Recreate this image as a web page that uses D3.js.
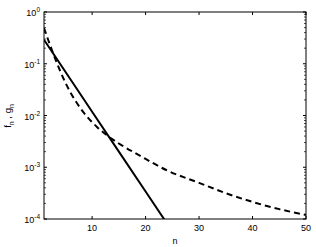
<!DOCTYPE html>
<html>
<head>
<meta charset="utf-8">
<script src="https://cdn.jsdelivr.net/npm/d3@7"></script>
<style>
  body { margin: 0; background: #fff; }
  svg { display: block; font-family: "Liberation Sans", Arial, sans-serif; }
</style>
</head>
<body>
<div id="chart"></div>
<script>
// values
const fN = [1, 5, 10, 15, 20, 24];
const fVal = [0.29, 0.070, 0.0118, 0.0020, 0.00034, 0.000082];
const gN = [1, 2, 3, 4, 5, 6, 7, 8, 9, 10, 11, 12, 13, 15, 19, 24, 30, 35, 40, 45, 50];
const gVal = [0.49, 0.251, 0.132, 0.0733, 0.0432, 0.0272, 0.0184, 0.0130, 0.00966, 0.00741,
              0.00589, 0.00479, 0.00398, 0.00288, 0.00166, 0.00087, 0.00050, 0.000316,
              0.000214, 0.000155, 0.00012];
const xTicks = [10, 20, 30, 40, 50];
const yTicks = [1, 0.1, 0.01, 0.001, 0.0001];
const yExp = ['0', '-1', '-2', '-3', '-4'];

const W = 316, H = 247;
const margin = { left: 44, right: 10, top: 12, bottom: 28 };
const width = W - margin.left - margin.right;
const height = H - margin.top - margin.bottom;

const svg = d3.select('#chart').append('svg')
  .attr('width', W)
  .attr('height', H);

const x = d3.scaleLinear().domain([1, 50]).range([0, width]);
const y = d3.scaleLog().domain([1e-4, 1]).range([height, 0]);

const g = svg.append('g')
  .attr('transform', `translate(${margin.left},${margin.top})`);

g.append('clipPath').attr('id', 'clip')
  .append('rect').attr('width', width).attr('height', height);

// minor log ticks
const minor = [];
for (let e = -4; e < 0; e++) {
  for (let m = 2; m <= 9; m++) minor.push(m * Math.pow(10, e));
}
g.selectAll('.minor-l').data(minor).enter().append('line')
  .attr('x1', 0).attr('x2', 2)
  .attr('y1', d => y(d)).attr('y2', d => y(d))
  .attr('stroke', '#000').attr('stroke-width', 0.7);
g.selectAll('.minor-r').data(minor).enter().append('line')
  .attr('x1', width).attr('x2', width - 2)
  .attr('y1', d => y(d)).attr('y2', d => y(d))
  .attr('stroke', '#000').attr('stroke-width', 0.7);

// major ticks
g.selectAll('.ymaj').data(yTicks).enter().append('line')
  .attr('x1', 0).attr('x2', 3)
  .attr('y1', d => y(d)).attr('y2', d => y(d))
  .attr('stroke', '#000');
g.selectAll('.ymajr').data(yTicks).enter().append('line')
  .attr('x1', width).attr('x2', width - 3)
  .attr('y1', d => y(d)).attr('y2', d => y(d))
  .attr('stroke', '#000');
g.selectAll('.xmaj').data(xTicks).enter().append('line')
  .attr('x1', d => x(d)).attr('x2', d => x(d))
  .attr('y1', height).attr('y2', height - 3)
  .attr('stroke', '#000');
g.selectAll('.xmajt').data(xTicks).enter().append('line')
  .attr('x1', d => x(d)).attr('x2', d => x(d))
  .attr('y1', 0).attr('y2', 3)
  .attr('stroke', '#000');

// box
g.append('rect')
  .attr('width', width).attr('height', height)
  .attr('fill', 'none').attr('stroke', '#000').attr('stroke-width', 1);

// tick labels
g.selectAll('.xlab').data(xTicks).enter().append('text')
  .attr('x', d => x(d)).attr('y', height + 12)
  .attr('text-anchor', 'middle')
  .attr('font-size', 9)
  .text(d => d);

const yl = g.selectAll('.ylab').data(yTicks).enter().append('text')
  .attr('x', -4).attr('y', d => y(d) + 4)
  .attr('text-anchor', 'end')
  .attr('font-size', 9);
yl.append('tspan').text('10');
yl.append('tspan').attr('dy', -4).attr('font-size', 6.5).text((d, i) => yExp[i]);

// axis labels
g.append('text')
  .attr('x', width / 2).attr('y', height + 25)
  .attr('text-anchor', 'middle')
  .attr('font-size', 9)
  .text('n');

const ylab = svg.append('text')
  .attr('transform', 'translate(11,116) rotate(-90)')
  .attr('text-anchor', 'middle')
  .attr('font-size', 9.5);
ylab.append('tspan').text('f');
ylab.append('tspan').attr('dy', 2.5).attr('font-size', 7).text('n');
ylab.append('tspan').attr('dy', -2.5).text(' , g');
ylab.append('tspan').attr('dy', 2.5).attr('font-size', 7).text('n');

// lines
const line = d3.line().x(d => x(d[0])).y(d => y(d[1]));
const plot = g.append('g').attr('clip-path', 'url(#clip)');

plot.append('path')
  .datum(gN.map((n, i) => [n, gVal[i]]))
  .attr('d', line.curve(d3.curveMonotoneX))
  .attr('fill', 'none').attr('stroke', '#000')
  .attr('stroke-width', 2).attr('stroke-dasharray', '6,4');

plot.append('path')
  .datum(fN.map((n, i) => [n, fVal[i]]))
  .attr('d', line.curve(d3.curveLinear))
  .attr('fill', 'none').attr('stroke', '#000')
  .attr('stroke-width', 2);
</script>
</body>
</html>
